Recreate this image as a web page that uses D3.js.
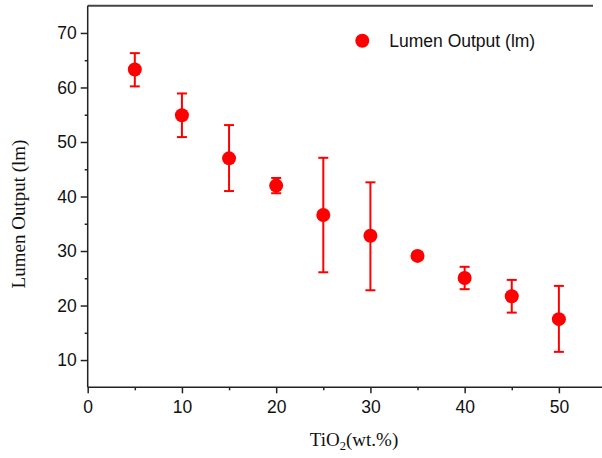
<!DOCTYPE html>
<html><head><meta charset="utf-8">
<script src="https://cdn.jsdelivr.net/npm/d3@7"></script>
<style>body{margin:0;background:#fff}svg{display:block}</style>
</head><body>
<svg id="c" width="602" height="458"></svg>
<script>
const tio2 = [5, 10, 15, 20, 25, 30, 35, 40, 45, 50];
const lumen = [63.3, 54.9, 47.0, 42.0, 36.6, 32.8, 29.1, 25.05, 21.7, 17.5];
const errUpper = [66.3, 58.9, 53.1, 43.4, 47.1, 42.6, 29.8, 27.1, 24.7, 23.6];
const errLower = [60.2, 50.9, 41.0, 40.6, 26.1, 22.8, 28.5, 23.0, 18.7, 11.5];
const xTicks = [0, 10, 20, 30, 40, 50];
const yTicks = [10, 20, 30, 40, 50, 60, 70];
const seriesName = "Lumen Output (lm)";

const svg = d3.select("#c");
const x = d3.scaleLinear().domain([0, 55]).range([87.7, 606]);
const y = d3.scaleLinear().domain([5, 75]).range([387.3, 5.7]);
const red = "#ff0000";
const axisColor = "#222";

// top frame line
svg.append("line").attr("x1", x(0)).attr("x2", 593).attr("y1", y(75)).attr("y2", y(75))
  .attr("stroke", "#444").attr("stroke-width", 2);

// x axis
const gx = svg.append("g").attr("transform", `translate(0,${y(5)})`);
gx.call(d3.axisBottom(x).tickValues(d3.range(5, 55, 10)).tickSize(3).tickFormat(""));
gx.call(g => g.select(".domain").remove());
const gx2 = svg.append("g").attr("transform", `translate(0,${y(5)})`)
  .call(d3.axisBottom(x).tickValues(xTicks).tickSize(6).tickPadding(7).tickSizeOuter(0).tickFormat(d3.format("d")));
[gx, gx2].forEach(g => {
  g.selectAll("line").attr("stroke", axisColor).attr("stroke-width", 1.5);
  g.selectAll(".domain").attr("stroke", axisColor).attr("stroke-width", 1.5);
  g.selectAll("text").attr("font-family", "'Liberation Sans', Arial, sans-serif").attr("font-size", 17.5).attr("fill", "#111");
});
gx2.select(".domain").attr("d", `M${x(0)},0H602`);

// y axis
const gy = svg.append("g").attr("transform", `translate(${x(0)},0)`);
gy.call(d3.axisLeft(y).tickValues(d3.range(15, 75, 10)).tickSize(3).tickFormat(""));
gy.call(g => g.select(".domain").remove());
const gy2 = svg.append("g").attr("transform", `translate(${x(0)},0)`)
  .call(d3.axisLeft(y).tickValues(yTicks).tickSize(7).tickPadding(4).tickSizeOuter(0).tickFormat(d3.format("d")));
[gy, gy2].forEach(g => {
  g.selectAll("line").attr("stroke", axisColor).attr("stroke-width", 1.5);
  g.selectAll(".domain").attr("stroke", axisColor).attr("stroke-width", 1.5);
  g.selectAll("text").attr("font-family", "'Liberation Sans', Arial, sans-serif").attr("font-size", 17.5).attr("fill", "#111");
});
gy2.select(".domain").attr("d", `M0,${y(75)}V${y(5)}`);

// error bars
const data = tio2.map((t, i) => ({t, v: lumen[i], hi: errUpper[i], lo: errLower[i]}));
const eb = svg.append("g").attr("stroke", red).attr("stroke-width", 2);
data.forEach(d => {
  eb.append("line").attr("x1", x(d.t)).attr("x2", x(d.t)).attr("y1", y(d.hi)).attr("y2", y(d.lo));
  eb.append("line").attr("x1", x(d.t) - 5).attr("x2", x(d.t) + 5).attr("y1", y(d.hi)).attr("y2", y(d.hi));
  eb.append("line").attr("x1", x(d.t) - 5).attr("x2", x(d.t) + 5).attr("y1", y(d.lo)).attr("y2", y(d.lo));
});
svg.append("g").selectAll("circle").data(data).join("circle")
  .attr("cx", d => x(d.t)).attr("cy", d => y(d.v)).attr("r", 7).attr("fill", red);

// legend
svg.append("circle").attr("cx", 362.3).attr("cy", 40.7).attr("r", 7).attr("fill", red);
svg.append("text").attr("x", 389.3).attr("y", 46.7).text(seriesName)
  .attr("font-family", "'Liberation Sans', Arial, sans-serif").attr("font-size", 17.5).attr("fill", "#111");

// axis titles
const xt = svg.append("text").attr("x", 354).attr("y", 446).attr("text-anchor", "middle")
  .attr("font-family", "'Liberation Serif', 'Times New Roman', serif").attr("font-size", 19).attr("fill", "#111");
xt.append("tspan").text("TiO");
xt.append("tspan").text("2").attr("font-size", 12.5).attr("dy", 4);
xt.append("tspan").text("(wt.%)").attr("dy", -4);

svg.append("text").attr("transform", "translate(25,214) rotate(-90)").attr("text-anchor", "middle")
  .attr("font-family", "'Liberation Serif', 'Times New Roman', serif").attr("font-size", 19).attr("fill", "#111")
  .text("Lumen Output (lm)");
</script>
</body></html>
